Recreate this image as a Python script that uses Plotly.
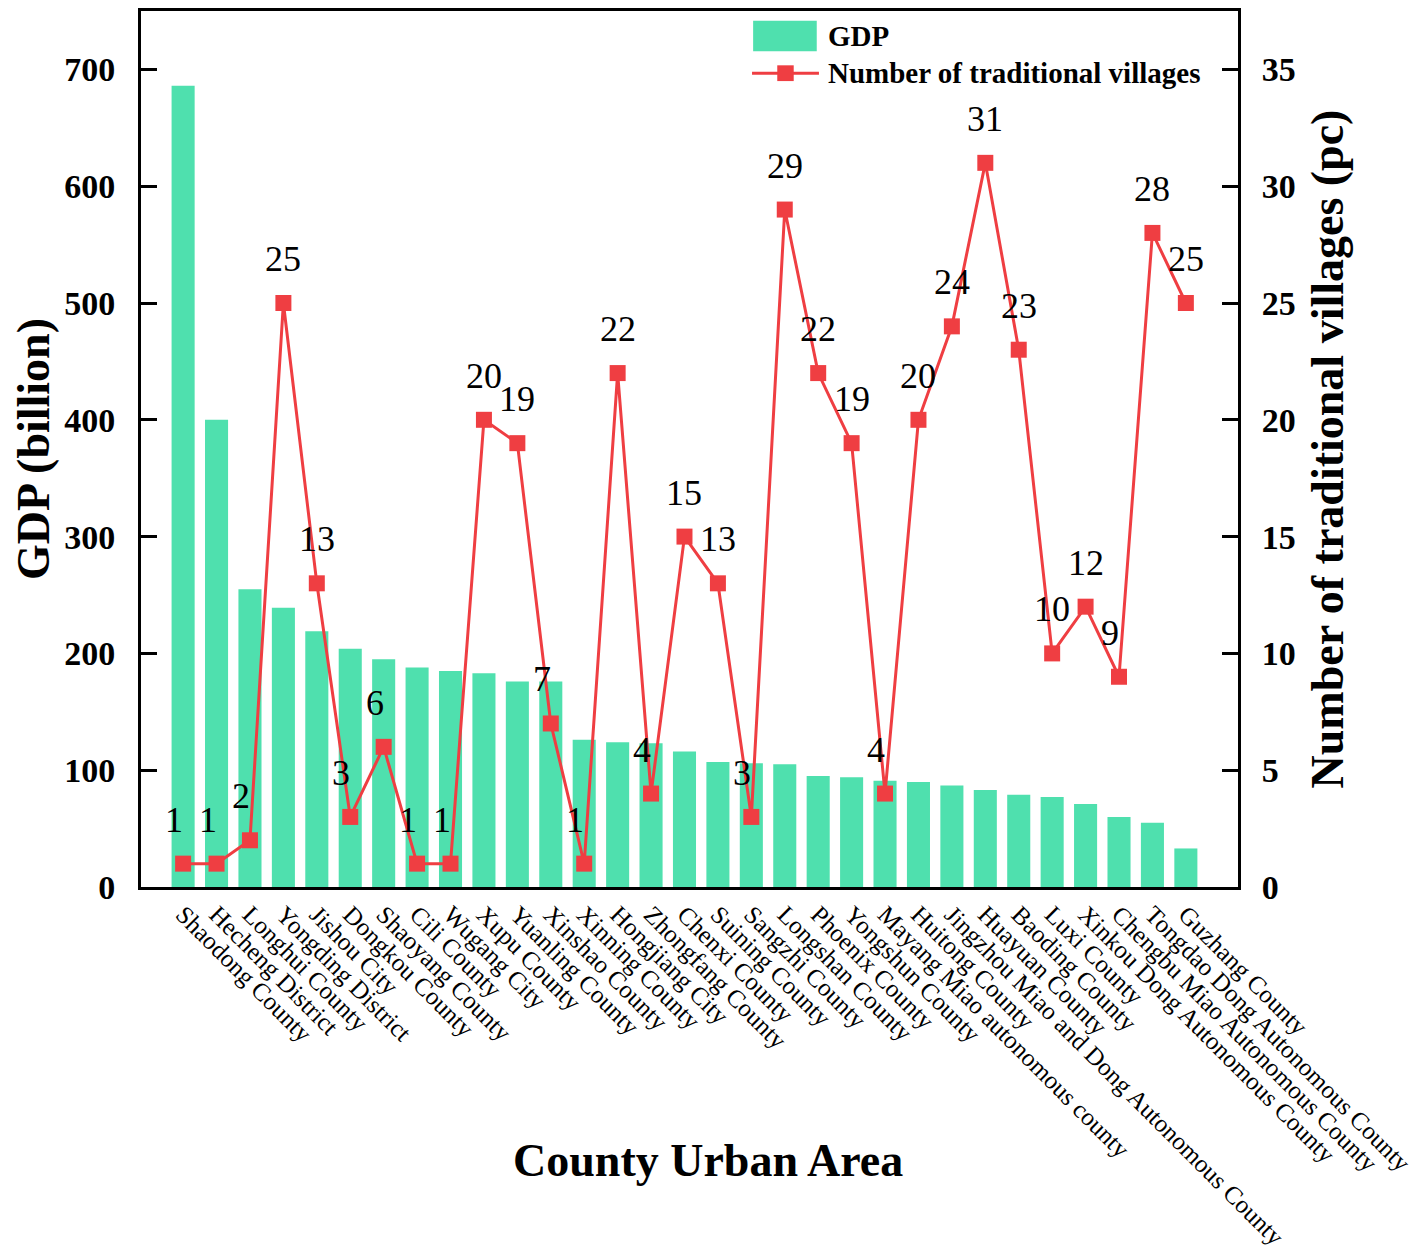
import plotly.graph_objects as go

# county / urban areas, sorted by GDP
counties = [
    "Shaodong County", "Hecheng District", "Longhui County", "Yongding District",
    "Jishou City", "Dongkou County", "Shaoyang County", "Cili County",
    "Wugang City", "Xupu County", "Yuanling County", "Xinshao County",
    "Xinning County", "Hongjiang City", "Zhongfang County", "Chenxi County",
    "Suining County", "Sangzhi County", "Longshan County", "Phoenix County",
    "Yongshun County", "Mayang Miao autonomous county", "Huitong County",
    "Jingzhou Miao and Dong Autonomous County", "Huayuan County", "Baoding County",
    "Luxi County", "Xinkou Dong Autonomous County", "Chengbu Miao Autonomous County",
    "Tongdao Dong Autonomous County", "Guzhang County",
]

# GDP (billion)
gdp = [686, 400, 255, 239, 219, 204, 195, 188, 185, 183, 176, 176, 126, 124, 123,
       116, 107, 106, 105, 95, 94, 91, 90, 87, 83, 79, 77, 71, 60, 55, 33]

# number of traditional villages (pc)
villages = [1, 1, 2, 25, 13, 3, 6, 1, 1, 20, 19, 7, 1, 22, 4, 15, 13, 3, 29, 22,
            19, 4, 20, 24, 31, 23, 10, 12, 9, 28, 25]

left_ticks = [0, 100, 200, 300, 400, 500, 600, 700]
right_ticks = [0, 5, 10, 15, 20, 25, 30, 35]

green = "#4FE0AE"
red = "#EF3E42"
serif = "Liberation Serif, Times New Roman, serif"

fig = go.Figure()

fig.add_trace(go.Bar(
    x=counties, y=gdp, name="GDP",
    marker=dict(color=green, line=dict(width=0)),
    yaxis="y", showlegend=False,
))

fig.add_trace(go.Scatter(
    x=counties, y=villages, name="Number of traditional villages",
    mode="lines+markers",
    line=dict(color=red, width=3),
    marker=dict(symbol="square", size=16, color=red),
    yaxis="y2", showlegend=False,
))

# value labels above the markers
for c, v in zip(counties, villages):
    fig.add_annotation(
        x=c, y=v, xref="x", yref="y2", text=str(v), showarrow=False,
        xanchor="left", yanchor="bottom", xshift=-20, yshift=22,
        font=dict(family=serif, size=36, color="black"),
    )

# x axis title (sits over the long tick labels like the original)
fig.add_annotation(
    x=0.517, y=-0.312, xref="paper", yref="paper", text="<b>County Urban Area</b>",
    showarrow=False, xanchor="center", yanchor="middle",
    font=dict(family=serif, size=46, color="black"),
)

# legend drawn by hand, Origin style: wide swatch + line with square
fig.add_shape(type="rect", xref="paper", yref="paper", x0=0.558, x1=0.616,
              y0=0.954, y1=0.989, fillcolor=green, line=dict(width=0))
fig.add_shape(type="line", xref="paper", yref="paper", x0=0.557, x1=0.618,
              y0=0.929, y1=0.929, line=dict(color=red, width=3))
fig.add_shape(type="rect", xref="paper", yref="paper", x0=0.580, x1=0.595,
              y0=0.920, y1=0.938, fillcolor=red, line=dict(width=0))
fig.add_annotation(x=0.6245, y=0.972, xref="paper", yref="paper", text="<b>GDP</b>",
                   showarrow=False, xanchor="left", yanchor="middle",
                   font=dict(family=serif, size=29, color="black"))
fig.add_annotation(x=0.6245, y=0.929, xref="paper", yref="paper",
                   text="<b>Number of traditional villages</b>",
                   showarrow=False, xanchor="left", yanchor="middle",
                   font=dict(family=serif, size=29, color="black"))

axis_common = dict(showline=True, linecolor="black", linewidth=3, showgrid=False,
                   zeroline=False)

fig.update_layout(
    width=1422, height=1258,
    margin=dict(l=133, r=192, t=0, b=379),
    paper_bgcolor="white", plot_bgcolor="white",
    font=dict(family=serif, color="black"),
    bargap=0.31,
    showlegend=False,
    xaxis=dict(
        **axis_common, mirror=True, ticks="", tickangle=45,
        range=[-1.26, 31.56],
        tickfont=dict(family=serif, size=25, color="black"),
    ),
    yaxis=dict(
        **axis_common, mirror=True, range=[0, 750], tickvals=left_ticks,
        ticks="inside", ticklen=16, tickwidth=3, tickcolor="black",
        ticklabelstandoff=16,
        tickfont=dict(family=serif, size=34, color="black", weight="bold"),
        title=dict(text="<b>GDP (billion)</b>", standoff=19,
                   font=dict(family=serif, size=46, color="black")),
    ),
    yaxis2=dict(
        **axis_common, overlaying="y", side="right", range=[0, 37.5],
        tickvals=right_ticks,
        ticks="inside", ticklen=16, tickwidth=3, tickcolor="black",
        ticklabelstandoff=14,
        tickfont=dict(family=serif, size=34, color="black", weight="bold"),
        title=dict(text="<b>Number of traditional villages (pc)</b>", standoff=17,
                   font=dict(family=serif, size=46, color="black")),
    ),
)

fig.write_html("out.html")
